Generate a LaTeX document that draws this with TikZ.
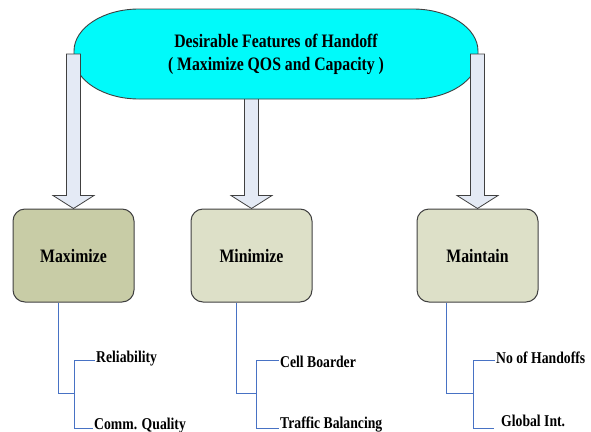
\documentclass[tikz,border=0pt]{standalone}
\usepackage{fontspec}
\setmainfont{Liberation Serif}[FakeStretch=0.83]
\usetikzlibrary{calc}
\definecolor{pillfill}{RGB}{0,250,250}
\definecolor{arrfill}{RGB}{228,234,245}
\definecolor{edge}{RGB}{64,64,64}
\definecolor{boxdark}{RGB}{200,204,166}
\definecolor{boxlight}{RGB}{221,224,200}
\definecolor{treeblue}{RGB}{72,114,196}
\tikzset{
  blockarr/.style={draw=edge, fill=arrfill, line width=0.8pt, line join=miter},
  featbox/.style={draw=edge, line width=1pt, rounded corners=12pt,
    minimum width=121pt, minimum height=93pt, font=\fontsize{19}{21}\selectfont\bfseries},
  leaf/.style={anchor=base west, inner sep=1.5pt, font=\fontsize{16.5}{18}\selectfont\bfseries},
  tree/.style={draw=treeblue, line width=0.9pt},
}
% block arrow: shaft from the y of #1 down to the north side of node #2
\newcommand{\blockarrow}[2]{%
  \draw[blockarr] let \p1=(#1), \p2=(#2.north) in
    (\x2-7pt,\y1) -- (\x2-7pt,\y2+13pt) -- (\x2-20.5pt,\y2+13pt) -- (\x2,\y2)
    -- (\x2+20.5pt,\y2+13pt) -- (\x2+7pt,\y2+13pt) -- (\x2+7pt,\y1) -- cycle;}
\begin{document}
\begin{tikzpicture}[x=1pt,y=-1pt]
\useasboundingbox (0,0) rectangle (591,431);

% feature boxes
\node[featbox, fill=boxdark]  (mx) at (73.5,255.5)  {Maximize};
\node[featbox, fill=boxlight] (mn) at (251.5,255.5) {Minimize};
\node[featbox, fill=boxlight] (mt) at (477.5,255.5) {Maintain};

% shaft tops
\coordinate (topL) at (74,54);
\coordinate (topM) at (251,80);
\coordinate (topR) at (478,54);

% middle arrow sits behind the header
\blockarrow{topM}{mn}

% header pill
\draw[draw=edge, fill=pillfill, line width=0.9pt]
  (139,9) -- (413,9) .. controls (449,9) and (478,28) .. (478,51) -- (478,57)
  .. controls (478,80) and (449,99) .. (413,99) -- (139,99)
  .. controls (103,99) and (74,80) .. (74,57) -- (74,51)
  .. controls (74,28) and (103,9) .. (139,9) -- cycle;
\node[align=center, font=\fontsize{19}{23}\selectfont\bfseries] (hdr) at (276,54)
  {Desirable Features of Handoff\\( Maximize QOS and Capacity )};

% outer arrows lie over the header ends
\blockarrow{topL}{mx}
\blockarrow{topR}{mt}

% leaves
\node[leaf] (rel) at (94.5,362)  {Reliability};
\node[leaf] (cq)  at (92.5,429)  {Comm. Quality};
\node[leaf] (cb)  at (278.5,367) {Cell Boarder};
\node[leaf] (tb)  at (278.5,428) {Traffic Balancing};
\node[leaf] (noh) at (494.5,363) {No of Handoffs};
\node[leaf] (gi)  at (499.5,426) {Global Int.};

% Maximize branch
\coordinate (mxJ) at (74,393);
\coordinate (mxA) at (74,360);
\coordinate (mxB) at (74,428);
\draw[tree] ($(mx.south)+(-15.5,0)$) |- (mxJ);
\draw[tree] (rel.west |- mxA) -- (mxA) -- (mxB) -- (cq.west |- mxB);

% Minimize branch
\coordinate (mnJ) at (256,393);
\coordinate (mnA) at (256,360);
\coordinate (mnB) at (256,428);
\draw[tree] ($(mn.south)+(-15.5,0)$) |- (mnJ);
\draw[tree] (cb.west |- mnA) -- (mnA) -- (mnB) -- (tb.west |- mnB);

% Maintain branch
\coordinate (mtJ) at (473,393);
\coordinate (mtA) at (473,360);
\coordinate (mtB) at (473,428);
\coordinate (mtE) at (494,428);
\draw[tree] ($(mt.south)+(-31.5,0)$) |- (mtJ);
\draw[tree] (noh.west |- mtA) -- (mtA) -- (mtB) -- (mtE);
\end{tikzpicture}
\end{document}
